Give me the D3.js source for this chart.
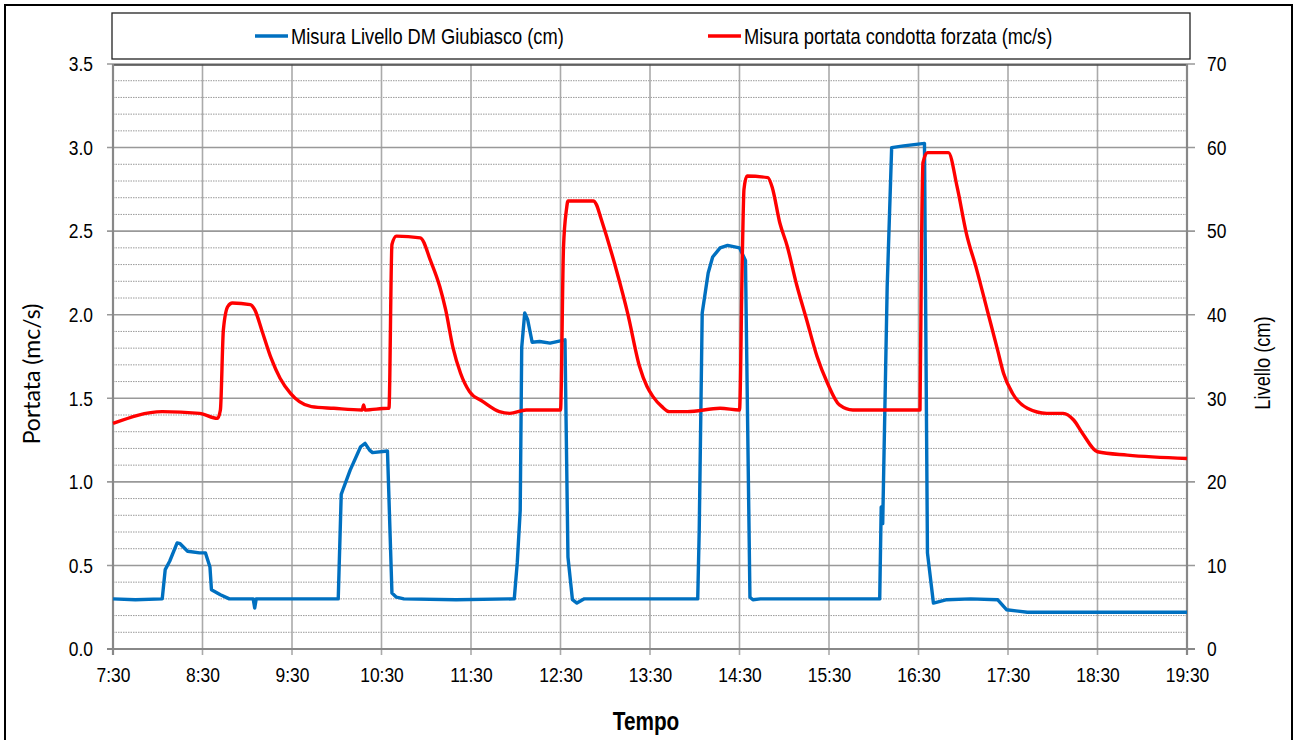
<!DOCTYPE html>
<html>
<head>
  <meta charset="utf-8">
  <script src="https://d3js.org/d3.v7.min.js"></script>
  <style>
  body { margin: 0; background: #fff; }
  text { font-family: "Liberation Sans", Arial, sans-serif; fill: #000; }
  .grid-minor line { stroke: #9a9a9a; stroke-dasharray: 1.5,1; stroke-width: 1; }
  .grid-major line { stroke: #999; stroke-width: 1.6; }
  .grid-v line { stroke: #aaa; stroke-width: 1.6; }
  </style>
</head>
<body>
<svg id="chart" width="1294" height="740"></svg>
<script>
// time ticks (one per hour)
var timeTicks = ["7:30","8:30","9:30","10:30","11:30","12:30","13:30","14:30","15:30","16:30","17:30","18:30","19:30"];

// portata (mc/s), left axis
var portataTime = ["7:30","8:03","8:28","8:40","8:42","8:44","8:47","8:50","9:02","9:05","9:10","9:16","9:22","9:29","9:35","9:43","9:58","10:17","10:18","10:19","10:34","10:35",
  "10:37","10:40","10:56","11:03","11:09","11:13","11:18","11:23","11:29","11:38","11:49","11:56","12:07","12:30",
  "12:32","12:34","12:35","12:52","12:54","12:57","13:08","13:15","13:23","13:28","13:32","13:38","13:43","13:55","14:17","14:30",
  "14:32","14:33","14:35","14:49","14:52","14:57","15:02","15:08","15:15","15:22","15:29","15:37","15:46","15:55","16:31",
  "16:32","16:33","16:36","16:50","16:56","17:02","17:09","17:16","17:23","17:27","17:33","17:43","17:56","18:07","18:14","18:20","18:30","18:50","19:30"];
var portataVal = [1.35,1.42,1.41,1.38,1.43,1.91,2.05,2.07,2.06,2.03,1.90,1.74,1.62,1.53,1.48,1.45,1.44,1.43,1.46,1.43,1.44,1.44,
  2.42,2.47,2.46,2.32,2.17,2.03,1.80,1.65,1.54,1.48,1.42,1.41,1.43,1.43,
  2.40,2.63,2.68,2.68,2.66,2.58,2.25,2.01,1.69,1.57,1.51,1.45,1.42,1.42,1.44,1.43,
  2.40,2.75,2.83,2.82,2.76,2.55,2.41,2.19,1.97,1.75,1.59,1.46,1.43,1.43,1.43,
  2.40,2.91,2.97,2.97,2.76,2.49,2.27,2.03,1.79,1.65,1.53,1.44,1.41,1.41,1.37,1.29,1.18,1.16,1.14];

// livello (cm), right axis
var livelloTime = ["7:30","7:45","8:03","8:05","8:08","8:13","8:15","8:20","8:28","8:32","8:35","8:36","8:42","8:48","9:04","9:05","9:06","9:30","10:01",
  "10:03","10:04","10:09","10:16","10:19","10:22","10:24","10:34","10:37","10:40","10:45","11:20","11:59",
  "12:01","12:03","12:04","12:06","12:08","12:11","12:16","12:23","12:33","12:35","12:38","12:41","12:46","13:30","14:02",
  "14:03","14:05","14:09","14:12","14:17","14:22","14:30","14:34","14:37","14:39","14:44","15:20","16:04",
  "16:05","16:06","16:09","16:12","16:20","16:34","16:36","16:40","16:49","17:05","17:23","17:29","17:43","18:30","19:30"];
var livelloVal = [6.0,5.9,6.0,9.5,10.5,12.7,12.6,11.7,11.5,11.5,9.8,7.1,6.5,6.0,6.0,4.9,6.0,6.0,6.0,
  18.5,19.0,21.4,24.2,24.6,23.8,23.5,23.7,6.7,6.2,6.0,5.9,6.0,
  10.3,16.6,36.1,40.2,39.4,36.7,36.8,36.6,37.0,11.0,5.9,5.5,6.0,6.0,6.0,
  14.2,40.2,45.0,46.9,48.0,48.3,48.0,46.5,6.2,5.9,6.0,6.0,6.0,
  17.0,15.0,43.3,60.0,60.2,60.5,11.5,5.5,5.9,6.0,5.9,4.7,4.4,4.4,4.4];

var svg = d3.select("#chart");
var plotL = 113, plotR = 1187, plotT = 64, plotB = 649;
var narrow = 0.83; // squeeze Liberation Sans to look like Arial Narrow

function toMin(s) { var p = s.split(":"); return +p[0] * 60 + +p[1]; }

var x = d3.scaleLinear().domain([toMin("7:30"), toMin("19:30")]).range([plotL, plotR]);
var yL = d3.scaleLinear().domain([0, 3.5]).range([plotB, plotT]);
var yR = d3.scaleLinear().domain([0, 70]).range([plotB, plotT]);

// outer frame
svg.append("rect").attr("x", 5).attr("y", 5).attr("width", 1287).attr("height", 760)
  .attr("fill", "#fff").attr("stroke", "#000").attr("stroke-width", 2);

// minor grid every 0.1
svg.append("g").attr("class", "grid-minor")
  .selectAll("line").data(d3.range(1, 35).filter(function(i) { return i % 5 != 0; }))
  .enter().append("line")
  .attr("x1", plotL).attr("x2", plotR)
  .attr("y1", function(i) { return yL(i / 10); }).attr("y2", function(i) { return yL(i / 10); });

// vertical grid
svg.append("g").attr("class", "grid-v")
  .selectAll("line").data(timeTicks.slice(1, -1)).enter().append("line")
  .attr("x1", function(d) { return x(toMin(d)); }).attr("x2", function(d) { return x(toMin(d)); })
  .attr("y1", plotT).attr("y2", plotB + 6);

// major horizontal grid
svg.append("g").attr("class", "grid-major")
  .selectAll("line").data(d3.range(0.5, 3.5, 0.5)).enter().append("line")
  .attr("x1", plotL - 6).attr("x2", plotR + 8)
  .attr("y1", function(d) { return yL(d); }).attr("y2", function(d) { return yL(d); });

// plot frame
svg.append("line").attr("x1", plotL - 6).attr("x2", plotR + 8).attr("y1", plotT).attr("y2", plotT)
  .attr("stroke", "#999").attr("stroke-width", 1.6);
svg.append("line").attr("x1", plotL).attr("x2", plotR).attr("y1", plotT + 1).attr("y2", plotT + 1)
  .attr("stroke", "#444").attr("stroke-width", 1.6);
svg.append("line").attr("x1", plotL - 6).attr("x2", plotR + 8).attr("y1", plotB).attr("y2", plotB)
  .attr("stroke", "#888").attr("stroke-width", 2.2);
svg.append("line").attr("x1", plotL).attr("x2", plotL).attr("y1", plotT).attr("y2", plotB + 6)
  .attr("stroke", "#888").attr("stroke-width", 2.2);
svg.append("line").attr("x1", plotR).attr("x2", plotR).attr("y1", plotT).attr("y2", plotB + 6)
  .attr("stroke", "#888").attr("stroke-width", 2.2);

// axes labels
var leftAxis = d3.axisLeft(yL).tickValues(d3.range(0, 3.51, 0.5)).tickFormat(d3.format(".1f")).tickSize(0).tickPadding(20);
var gL = svg.append("g").attr("transform", "translate(" + plotL + ",0)").call(leftAxis);
var rightAxis = d3.axisRight(yR).tickValues(d3.range(0, 71, 10)).tickSize(0).tickPadding(20);
var gR = svg.append("g").attr("transform", "translate(" + plotR + ",0)").call(rightAxis);
var bottomAxis = d3.axisBottom(x).tickValues(timeTicks.map(toMin)).tickFormat(function(d, i) { return timeTicks[i]; }).tickSize(0).tickPadding(18);
var gB = svg.append("g").attr("transform", "translate(0," + plotB + ")").call(bottomAxis);
[gL, gR, gB].forEach(function(g) {
  g.select(".domain").remove();
  g.selectAll("text")
    .style("font-size", "21px").style("font-family", "'Liberation Sans', Arial, sans-serif")
    .attr("x", function() { return (+d3.select(this).attr("x") || 0) / narrow; })
    .attr("transform", "scale(" + narrow + ",1)");
});

// series
var livello = livelloTime.map(function(t, i) { return [toMin(t), livelloVal[i]]; });
var portata = portataTime.map(function(t, i) { return [toMin(t), portataVal[i]]; });

svg.append("path").datum(livello)
  .attr("fill", "none").attr("stroke", "#0070C0").attr("stroke-width", 3.4).attr("stroke-linejoin", "round")
  .attr("d", d3.line().x(function(d) { return x(d[0]); }).y(function(d) { return yR(d[1]); }));

svg.append("path").datum(portata)
  .attr("fill", "none").attr("stroke", "#FF0000").attr("stroke-width", 3.4).attr("stroke-linejoin", "round")
  .attr("d", d3.line().curve(d3.curveMonotoneX).x(function(d) { return x(d[0]); }).y(function(d) { return yL(d[1]); }));

// axis titles
svg.append("text").attr("transform", "translate(40,374) rotate(-90)")
  .attr("text-anchor", "middle").style("font-family", "Lato, 'Open Sans', sans-serif").style("font-size", "23px")
  .text("Portata (mc/s)");
svg.append("text").attr("transform", "translate(1270,363) rotate(-90) scale(" + narrow + ",1)")
  .attr("text-anchor", "middle").style("font-size", "22px")
  .text("Livello (cm)");
svg.append("text").attr("transform", "translate(646,730) scale(" + narrow + ",1)")
  .attr("text-anchor", "middle").style("font-size", "25px").style("font-weight", "bold")
  .text("Tempo");

// legend
svg.append("rect").attr("x", 112).attr("y", 13).attr("width", 1078).attr("height", 46)
  .attr("fill", "#fff").attr("stroke", "#222").attr("stroke-width", 1.3);
var legendNames = ["Misura Livello DM Giubiasco (cm)", "Misura portata condotta forzata (mc/s)"];
var legendColors = ["#0070C0", "#FF0000"];
var legendX = [255, 708];
legendNames.forEach(function(name, i) {
  svg.append("line").attr("x1", legendX[i]).attr("x2", legendX[i] + 33).attr("y1", 36).attr("y2", 36)
    .attr("stroke", legendColors[i]).attr("stroke-width", 3.4);
  svg.append("text").attr("transform", "translate(" + (legendX[i] + 36) + ",44) scale(" + narrow + ",1)")
    .style("font-size", "22px").text(name);
});
</script>
</body>
</html>
